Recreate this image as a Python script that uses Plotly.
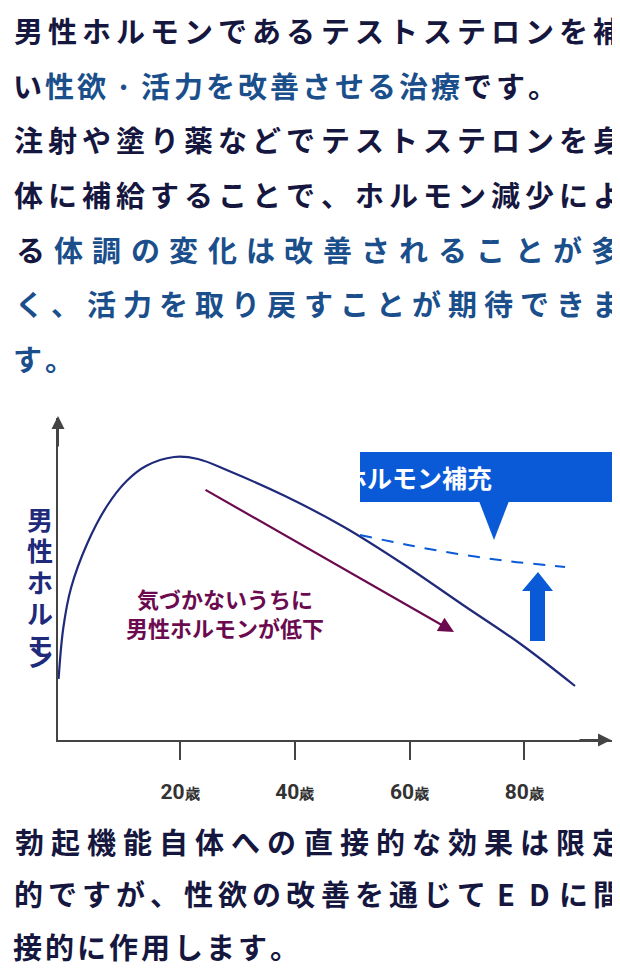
import plotly.graph_objects as go

W, H = 620, 972
FONT = "Noto Sans CJK JP"
DARK = "#16173f"
BLUE_T = "#1b4f8c"
NAVY = "#1f2a7a"
BRIGHT = "#0a5ad8"
PURPLE = "#6b0a4e"

# hormone curve (age, level)
ages = [-1.19, -0.37, 0.98, 3.77, 7.25, 10.67, 14.05, 18.94, 23.12, 28.53, 38.29, 48.58, 58.87, 69.33, 79.61, 88.86]
levels = [61, 112, 152, 196, 234, 259, 274, 283, 281, 269, 244, 213, 176, 135, 95, 54]
# supplemented (dashed)
sup_ages = [51.36, 59.73, 68.45, 77.18, 87.12]
sup_levels = [205, 195, 186, 179, 173]
tick_vals = [20, 40, 60, 80]
tick_text = ["20<span style='font-size:15px'>歳</span>", "40<span style='font-size:15px'>歳</span>",
             "60<span style='font-size:15px'>歳</span>", "80<span style='font-size:15px'>歳</span>"]

top_lines = [
    [("男性ホルモンであるテストステロンを補", DARK)],
    [("い", DARK), ("性欲·活力を改善させる治療", BLUE_T), ("です。", DARK)],
    [("注射や塗り薬などでテストステロンを身", DARK)],
    [("体に補給することで、ホルモン減少によ", DARK)],
    [("る", DARK), ("体調の変化は改善されることが多", BLUE_T)],
    [("く、活力を取り戻すことが期待できま", BLUE_T)],
    [("す。", BLUE_T)],
]
top_just = [True, False, True, True, True, True, False]
top_y = [22, 77, 131, 186, 241, 295, 350]
bot_lines = [
    [("勃起機能自体への直接的な効果は限定", DARK)],
    [("的ですが、性欲の改善を通じてEDに間", DARK)],
    [("接的に作用します。", DARK)],
]
bot_just = [True, True, False]
bot_y = [833, 885, 938]

def px(x): return x / W
def py(y): return 1 - y / H

X0, X1, Y0, Y1 = 50, 605, 732, 410
PPY = 5.735
AGE0 = 57.4

fig = go.Figure()
fig.add_trace(go.Scatter(x=ages, y=levels, mode="lines", line=dict(color=NAVY, width=2.2, shape="spline"),
                         hoverinfo="skip", cliponaxis=False))
fig.add_trace(go.Scatter(x=sup_ages, y=sup_levels, mode="lines",
                         line=dict(color=BRIGHT, width=2, dash="12px,10px", shape="spline"),
                         hoverinfo="skip", cliponaxis=False))

ann = []
def add_text(lines, just, ys, size):
    for segs, j, y in zip(lines, just, ys):
        chars = [(c, col) for s, col in segs for c in s]
        n = len(chars)
        adv = (614 / n) if j else 32.2
        for i, (c, col) in enumerate(chars):
            ann.append(dict(x=px(3 + (i + 0.5) * adv), y=py(y), xref="paper", yref="paper", text=c,
                            showarrow=False, xanchor="center", yanchor="middle",
                            font=dict(family=FONT, size=size, color=col, weight="bold")))
add_text(top_lines, top_just, top_y, 29)
add_text(bot_lines, bot_just, bot_y, 29)

# y-axis label (vertical)
for i, c in enumerate("男性ホルモン"):
    ann.append(dict(x=px(17), y=py(510 + i * 31.6), xref="paper", yref="paper", text=c, showarrow=False,
                    font=dict(family=FONT, size=26, color=NAVY, weight="bold")))
# axis arrows
ann.append(dict(x=px(X0), y=py(408), ax=0, ay=32, xref="paper", yref="paper", axref="pixel", ayref="pixel",
                text="", showarrow=True, arrowhead=2, arrowsize=1.3, arrowwidth=2, arrowcolor="#444"))
ann.append(dict(x=px(603), y=py(Y0), ax=-33, ay=0, xref="paper", yref="paper", axref="pixel", ayref="pixel",
                text="", showarrow=True, arrowhead=2, arrowsize=1.3, arrowwidth=2, arrowcolor="#444"))
# purple arrow
ann.append(dict(x=67.76, y=108, ax=24.17, ay=251, xref="x", yref="y", axref="x", ayref="y", text="",
                showarrow=True, arrowhead=2, arrowsize=1.4, arrowwidth=2.2, arrowcolor=PURPLE))
ann.append(dict(x=px(217), y=py(604), xref="paper", yref="paper", showarrow=False,
                text="気づかないうちに<br>男性ホルモンが低下", align="center",
                font=dict(family=FONT, size=22, color=PURPLE, weight="bold")))
# box text
ann.append(dict(x=px(486), y=py(469), xref="paper", yref="paper", showarrow=False, text="男性ホルモン補充",
                font=dict(family=FONT, size=25, color="white", weight="bold")))

shapes = [
    dict(type="rect", xref="paper", yref="paper", x0=px(352), x1=px(620), y0=py(494), y1=py(444),
         fillcolor=BRIGHT, line=dict(width=0)),
    dict(type="path", xref="paper", yref="paper",
         path=f"M {px(471)} {py(493)} L {px(501)} {py(493)} L {px(486)} {py(532)} Z",
         fillcolor=BRIGHT, line=dict(width=0)),
    dict(type="path", xref="paper", yref="paper",
         path=(f"M {px(522)} {py(633)} L {px(537)} {py(633)} L {px(537)} {py(583)} L {px(545)} {py(583)} "
               f"L {px(530)} {py(564)} L {px(514)} {py(583)} L {px(522)} {py(583)} Z"),
         fillcolor=BRIGHT, line=dict(width=0)),
]

fig.update_layout(
    width=W, height=H, margin=dict(l=0, r=0, t=0, b=0),
    paper_bgcolor="white", plot_bgcolor="white", showlegend=False,
    xaxis=dict(domain=[px(X0), px(X1)], range=[(X0 - AGE0) / PPY, (X1 - AGE0) / PPY],
               showgrid=False, zeroline=False, showline=True, linecolor="#444", linewidth=2,
               ticks="outside", ticklen=18, tickwidth=1.5, tickcolor="#444",
               tickvals=tick_vals, ticktext=tick_text, ticklabelstandoff=14,
               tickfont=dict(family="Roboto", size=21, color="#333", weight="bold")),
    yaxis=dict(domain=[py(Y0), py(Y1)], range=[0, Y0 - Y1], showgrid=False, zeroline=False,
               showline=True, linecolor="#444", linewidth=2, showticklabels=False, ticks=""),
    annotations=ann, shapes=shapes,
)
fig.write_html("out.html")
